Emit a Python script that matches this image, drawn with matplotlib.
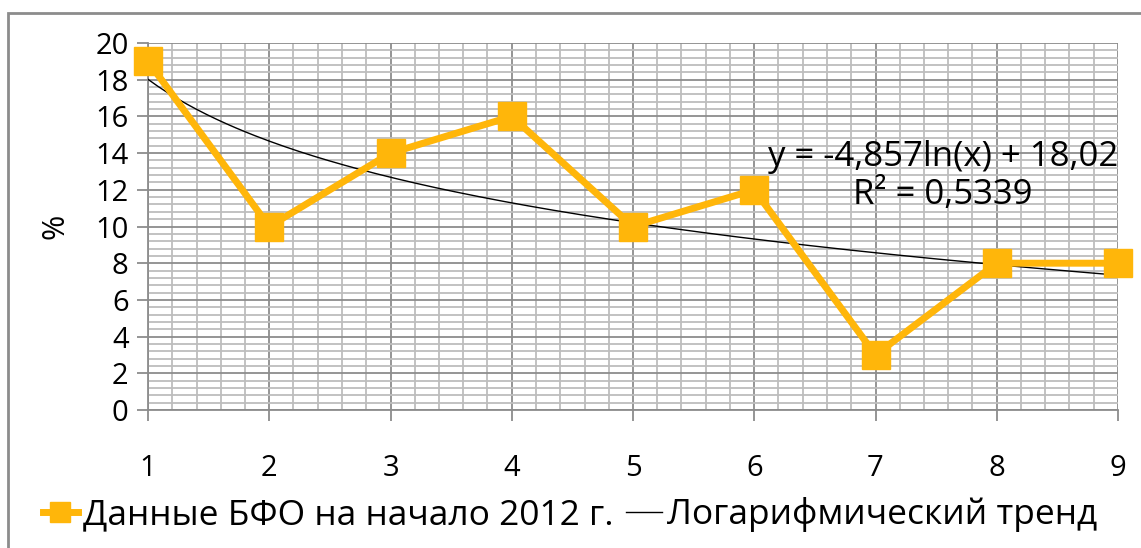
import numpy as np
import matplotlib
matplotlib.use('Agg')
import matplotlib.pyplot as plt
from matplotlib.patches import Rectangle
from matplotlib.lines import Line2D

# данные
x_vals = [1, 2, 3, 4, 5, 6, 7, 8, 9]
y_vals = [19, 10, 14, 16, 10, 12, 3, 8, 8]
series_label = 'Данные БФО на начало 2012 г.'
trend_label = 'Логарифмический тренд'
eq_text = 'y = -4,857ln(x) + 18,02\nR² = 0,5339'

plt.rcParams['font.family'] = ['Open Sans', 'DejaVu Sans']

ORANGE = '#FFB60A'

fig = plt.figure(figsize=(11.41, 5.48), dpi=100)
ax = fig.add_axes([148 / 1141, 1 - 410 / 548, (1118 - 148) / 1141, (410 - 43) / 548])

# логарифмический тренд (МНК по ln x)
k, b = np.polyfit(np.log(x_vals), y_vals, 1)
xs = np.linspace(1, 9, 200)
ax.plot(xs, k * np.log(xs) + b, color='black', lw=1.0, zorder=3)

ax.plot(x_vals, y_vals, color=ORANGE, lw=5, marker='s', markersize=20,
        markerfacecolor=ORANGE, markeredgecolor=ORANGE, zorder=4, clip_on=False)

ax.set_xlim(1, 9)
ax.set_ylim(0, 20)
ax.set_xticks(range(1, 10))
ax.set_yticks(range(0, 21, 2))
ax.set_xticks(np.arange(1, 9.001, 0.2), minor=True)
ax.set_yticks(np.arange(0, 20.001, 0.4), minor=True)
ax.grid(which='major', color='#8c8c8c', lw=1.3)
ax.grid(which='minor', color='#bdbdbd', lw=1.3)
ax.set_axisbelow(True)

for s in ['top', 'right']:
    ax.spines[s].set_visible(False)
for s in ['left', 'bottom']:
    ax.spines[s].set_color('#8c8c8c')
    ax.spines[s].set_linewidth(1.3)

ax.tick_params(which='major', direction='out', length=8, color='#8c8c8c',
               width=1.3, labelsize=21, pad=6)
ax.tick_params(which='minor', length=0)
ax.tick_params(axis='x', pad=24)
ax.set_ylabel('%', fontsize=22, labelpad=18)

ax.text(943, 548 - 176, eq_text, transform=None, fontsize=25, ha='center', va='center',
        linespacing=1.12)

# легенда
handles = [Line2D([], [], color=ORANGE, lw=5, marker='s', markersize=15),
           Line2D([], [], color='black', lw=1.0)]
fig.legend(handles, [series_label, trend_label], loc='center',
           bbox_to_anchor=(570 / 1141, 1 - 515 / 548), ncol=2, frameon=False,
           fontsize=25.5, handlelength=1.0, handletextpad=0.15, columnspacing=0.35)

# рамка
fig.patches.append(Rectangle((8 / 1141, -0.1), 1.1, 1 - 13 / 548 + 0.1,
                             transform=fig.transFigure, fill=False,
                             edgecolor='#8c8c8c', lw=2))

fig.savefig('out.png', dpi=100)
